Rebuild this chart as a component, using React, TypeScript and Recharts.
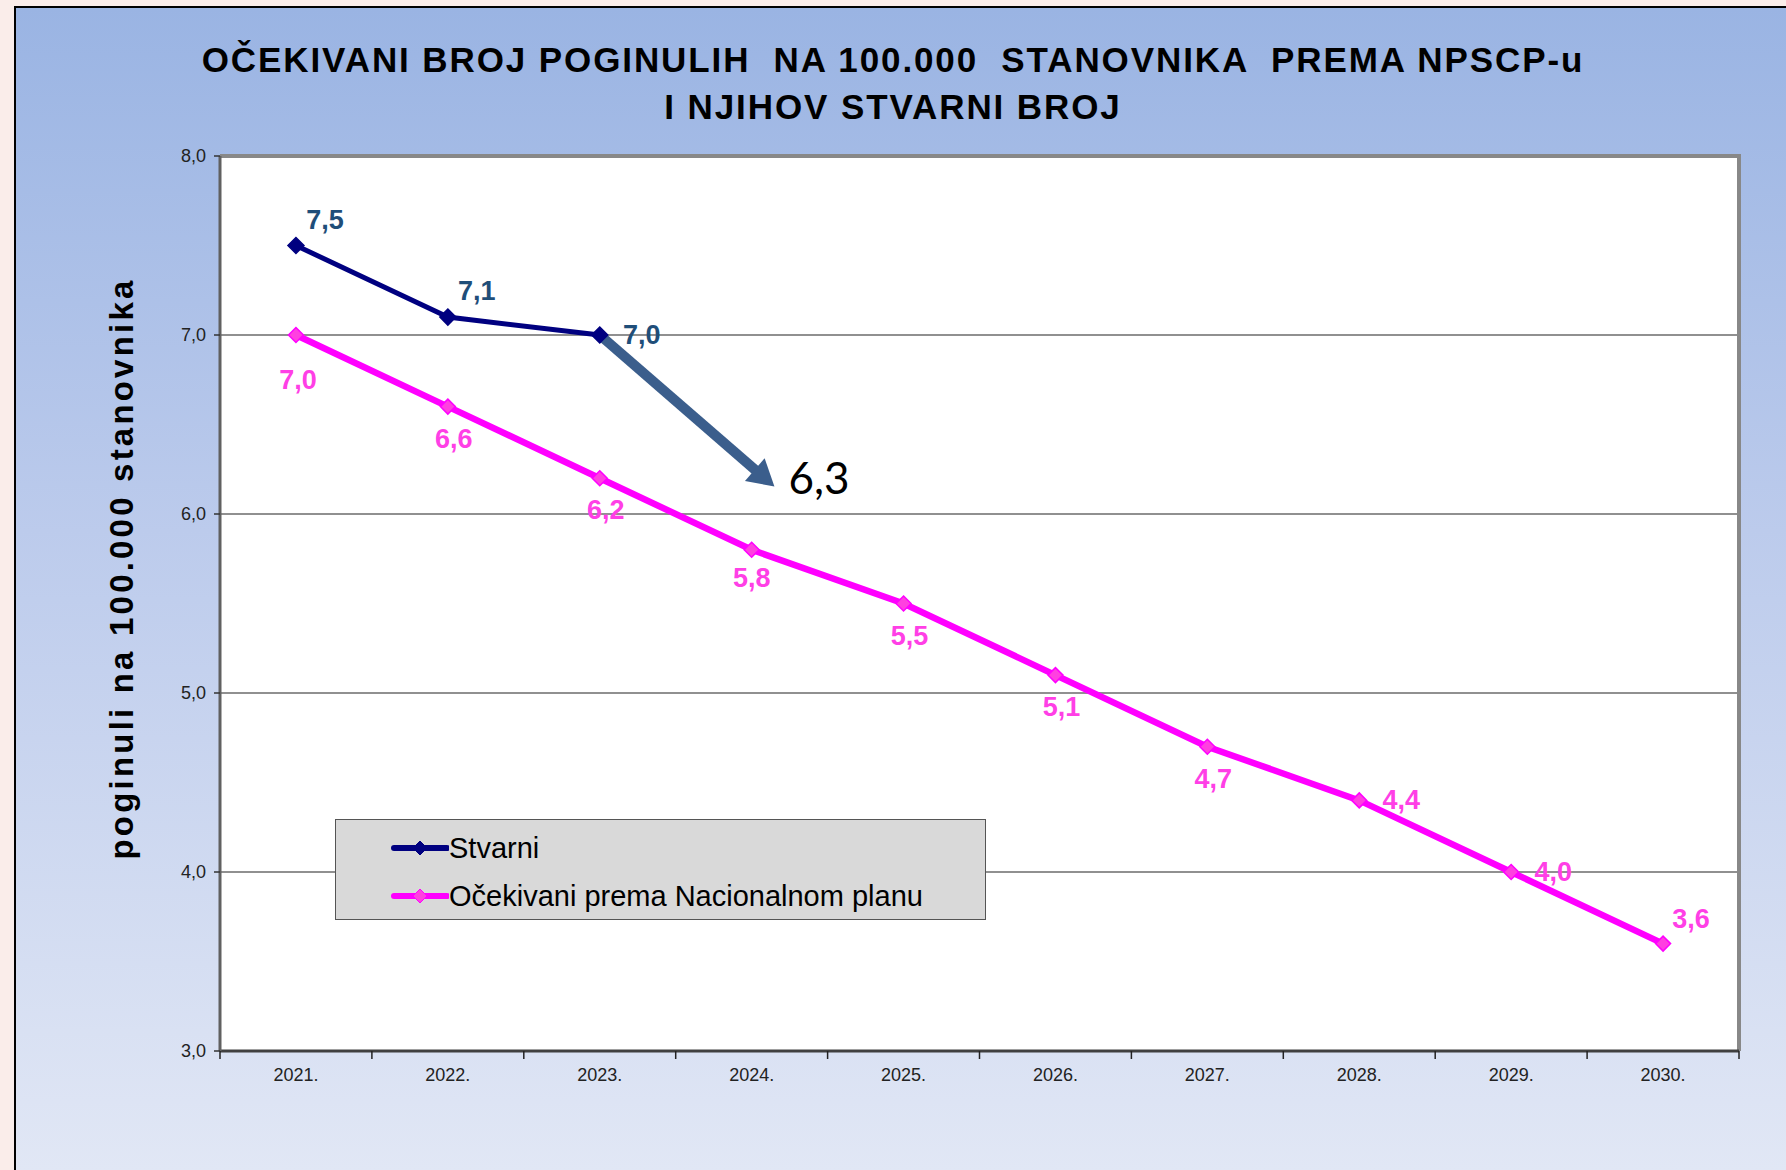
import {
  LineChart,
  Line,
  XAxis,
  YAxis,
  CartesianGrid,
  Legend,
  LabelList,
  ReferenceLine,
  ReferenceArea,
} from "recharts";

const years = ["2021.", "2022.", "2023.", "2024.", "2025.", "2026.", "2027.", "2028.", "2029.", "2030."];
const stvarni = [7.5, 7.1, 7.0, null, null, null, null, null, null, null];
const ocekivani = [7.0, 6.6, 6.2, 5.8, 5.5, 5.1, 4.7, 4.4, 4.0, 3.6];
const yTicks = [3, 4, 5, 6, 7, 8];
// hand-drawn arrow: last actual year -> estimate for next year
const arrowYears = ["2023.", "2024."];
const arrowValues = [7.0, 6.3];

const title = ["OČEKIVANI BROJ POGINULIH  NA 100.000  STANOVNIKA  PREMA NPSCP-u", "I NJIHOV STVARNI BROJ"];
const yLabel = "poginuli na 100.000 stanovnika";
const seriesNames = ["Stvarni", "Očekivani prema Nacionalnom planu"];

const W = 1786;
const H = 1170;
const PLOT_L = 220;
const PLOT_T = 156;
const PLOT_R = 1739;
const PLOT_B = 1051;
const Y_AXIS_W = 80;
const X_AXIS_H = 40;

const NAVY = "#000080";
const NAVY_LABEL = "#1F4E79";
const MAGENTA = "#FF00FF";
const MAGENTA_LABEL = "#FF3FE6";
const ARROW = "#3B5E8C";
const FONT = "'Liberation Sans', Arial, sans-serif";

const data = years.map((year, i) => ({
  year,
  stvarni: stvarni[i],
  ocekivani: ocekivani[i],
}));

const fmt = (v: number) => v.toFixed(1).replace(".", ",");

const Diamond = (props: any) => {
  const { cx, cy, value, fill, stroke, size } = props;
  if (value == null || cx == null || cy == null) return null;
  const s = size || 7;
  return (
    <polygon
      points={`${cx},${cy - s} ${cx + s},${cy} ${cx},${cy + s} ${cx - s},${cy}`}
      fill={fill}
      stroke={stroke}
      strokeWidth={1.5}
    />
  );
};

const XTick = (props: any) => {
  const { x, payload, index } = props;
  const bw = (PLOT_R - PLOT_L) / years.length;
  return (
    <g>
      <line x1={x - bw / 2} x2={x - bw / 2} y1={PLOT_B} y2={PLOT_B + 8} stroke="#222" strokeWidth={1.5} />
      {index === years.length - 1 && (
        <line x1={x + bw / 2} x2={x + bw / 2} y1={PLOT_B} y2={PLOT_B + 8} stroke="#222" strokeWidth={1.5} />
      )}
      <text x={x} y={PLOT_B + 24} textAnchor="middle" dominantBaseline="central" fontFamily={FONT} fontSize={18} fill="#222">
        {payload.value}
      </text>
    </g>
  );
};

const StvarniLabel = (props: any) => {
  const { x, y, value, index } = props;
  if (value == null) return null;
  const dx = index === 2 ? 42 : 29;
  const dy = index === 2 ? 0 : -26;
  return (
    <text x={x + dx} y={y + dy} textAnchor="middle" dominantBaseline="central" fontFamily={FONT} fontWeight="bold" fontSize={27} fill={NAVY_LABEL}>
      {fmt(value)}
    </text>
  );
};

const OcekivaniLabel = (props: any) => {
  const { x, y, value, index } = props;
  if (value == null) return null;
  let dx = 6;
  let dy = 32;
  if (index === 0) {
    dx = 2;
    dy = 45;
  } else if (index === 3) {
    dx = 0;
    dy = 28;
  } else if (index === 7 || index === 8) {
    dx = 42;
    dy = 0;
  } else if (index === 9) {
    dx = 28;
    dy = -25;
  }
  return (
    <text x={x + dx} y={y + dy} textAnchor="middle" dominantBaseline="central" fontFamily={FONT} fontWeight="bold" fontSize={27} fill={MAGENTA_LABEL}>
      {fmt(value)}
    </text>
  );
};

const ArrowShape = (props: any) => {
  const { x1, y1, x2, y2 } = props;
  if (x1 == null) return null;
  // the drawn arrow overshoots the 2024 point a little
  const tx = x1 + (x2 - x1) * 1.15;
  const ty = y1 + (y2 - y1) * 1.21;
  const len = Math.hypot(tx - x1, ty - y1);
  const ux = (tx - x1) / len;
  const uy = (ty - y1) / len;
  const nx = -uy;
  const ny = ux;
  const headL = 26;
  const headW = 15;
  const bx = tx - ux * headL;
  const by = ty - uy * headL;
  return (
    <g>
      <line x1={x1} y1={y1} x2={bx + ux * 2} y2={by + uy * 2} stroke={ARROW} strokeWidth={10} />
      <polygon
        points={`${tx},${ty} ${bx + nx * headW},${by + ny * headW} ${bx - nx * headW},${by - ny * headW}`}
        fill={ARROW}
      />
      <text x={tx + 14} y={ty - 10} dominantBaseline="central" fontFamily="Lato, 'Open Sans', sans-serif" fontSize={44} fill="#000">
        {fmt(arrowValues[1])}
      </text>
    </g>
  );
};

// grey frame on the top and right side of the plot area
const FrameShape = (props: any) => {
  const { x, y, width, height } = props;
  if (x == null) return null;
  return (
    <g>
      <line x1={x} x2={x + width + 2} y1={y} y2={y} stroke="#888" strokeWidth={4} />
      <line x1={x + width} x2={x + width} y1={y} y2={y + height} stroke="#888" strokeWidth={4} />
    </g>
  );
};

const LegendBox = () => {
  const colors = [
    { line: NAVY, fill: NAVY, stroke: NAVY },
    { line: MAGENTA, fill: "#FF40E0", stroke: MAGENTA },
  ];
  return (
    <div
      style={{
        width: "100%",
        height: "100%",
        boxSizing: "border-box",
        background: "#D9D9D9",
        border: "1.5px solid #555",
        paddingTop: 4,
      }}
    >
      {seriesNames.map((name, i) => (
        <div key={name} style={{ display: "flex", alignItems: "center", height: 48 }}>
          <svg width={113} height={30} style={{ flex: "none" }}>
            <line x1={58} x2={111} y1={15} y2={15} stroke={colors[i].line} strokeWidth={6} strokeLinecap="round" />
            <polygon points="84,8 91,15 84,22 77,15" fill={colors[i].fill} stroke={colors[i].stroke} />
          </svg>
          <span style={{ fontFamily: FONT, fontSize: 29, color: "#000", whiteSpace: "nowrap" }}>{name}</span>
        </div>
      ))}
    </div>
  );
};

export default function App() {
  return (
    <div style={{ position: "absolute", left: 0, top: 0, width: W, height: H, background: "#FAEDEA", overflow: "hidden" }}>
      <div
        style={{
          position: "absolute",
          left: 14,
          top: 6,
          right: 0,
          bottom: 0,
          borderLeft: "2px solid #000",
          borderTop: "2px solid #000",
          background: "linear-gradient(to bottom, #9AB4E3 0%, #BCCBEC 45%, #E1E7F5 100%)",
        }}
      />
      <div
        style={{
          position: "absolute",
          left: 0,
          width: W,
          top: 36,
          textAlign: "center",
          fontFamily: FONT,
          fontWeight: "bold",
          fontSize: 35,
          letterSpacing: 1.9,
          lineHeight: "47px",
          color: "#000",
          whiteSpace: "pre",
        }}
      >
        {title.map((t) => (
          <div key={t}>{t}</div>
        ))}
      </div>
      <div style={{ position: "absolute", left: 0, top: 0 }}>
        <LineChart
          width={W}
          height={H}
          data={data}
          margin={{ top: PLOT_T, right: W - PLOT_R, bottom: H - PLOT_B - X_AXIS_H, left: PLOT_L - Y_AXIS_W }}
        >
          <CartesianGrid horizontal vertical={false} stroke="#222" strokeWidth={1.2} fill="#FFFFFF" />
          <XAxis
            dataKey="year"
            scale="band"
            height={X_AXIS_H}
            tick={<XTick />}
            tickLine={false}
            axisLine={{ stroke: "#404040", strokeWidth: 3 }}
            interval={0}
          />
          <YAxis
            domain={[3, 8]}
            ticks={yTicks}
            width={Y_AXIS_W}
            tickFormatter={fmt}
            tickSize={6}
            tickMargin={8}
            tickLine={{ stroke: "#333", strokeWidth: 1.5 }}
            axisLine={{ stroke: "#606060", strokeWidth: 3 }}
            tick={{ fontFamily: FONT, fontSize: 18, fill: "#222" }}
            label={(p: any) => {
              const vb = p.viewBox;
              const cx = vb.x - 19;
              const cy = vb.y + vb.height / 2 - 35;
              return (
                <text
                  x={cx}
                  y={cy}
                  transform={`rotate(-90, ${cx}, ${cy})`}
                  textAnchor="middle"
                  dominantBaseline="central"
                  fontFamily={FONT}
                  fontWeight="bold"
                  fontSize={33}
                  letterSpacing={3.2}
                  fill="#000"
                >
                  {yLabel}
                </text>
              );
            }}
          />
          <ReferenceArea y1={3} y2={8} fill="none" shape={<FrameShape />} />
          <ReferenceLine
            segment={[
              { x: arrowYears[0], y: arrowValues[0] },
              { x: arrowYears[1], y: arrowValues[1] },
            ]}
            shape={<ArrowShape />}
          />
          <Line
            dataKey="ocekivani"
            name={seriesNames[1]}
            stroke={MAGENTA}
            strokeWidth={6.5}
            dot={<Diamond fill="#FF40E0" stroke={MAGENTA} size={7.5} />}
            activeDot={false}
            isAnimationActive={false}
          >
            <LabelList dataKey="ocekivani" content={<OcekivaniLabel />} />
          </Line>
          <Line
            dataKey="stvarni"
            name={seriesNames[0]}
            stroke={NAVY}
            strokeWidth={5}
            dot={<Diamond fill={NAVY} stroke={NAVY} size={8} />}
            activeDot={false}
            isAnimationActive={false}
          >
            <LabelList dataKey="stvarni" content={<StvarniLabel />} />
          </Line>
          <Legend
            layout="horizontal"
            verticalAlign="middle"
            align="center"
            content={<LegendBox />}
            wrapperStyle={{ position: "absolute", left: 335, top: 819, width: 651, height: 101 }}
          />
        </LineChart>
      </div>
    </div>
  );
}
